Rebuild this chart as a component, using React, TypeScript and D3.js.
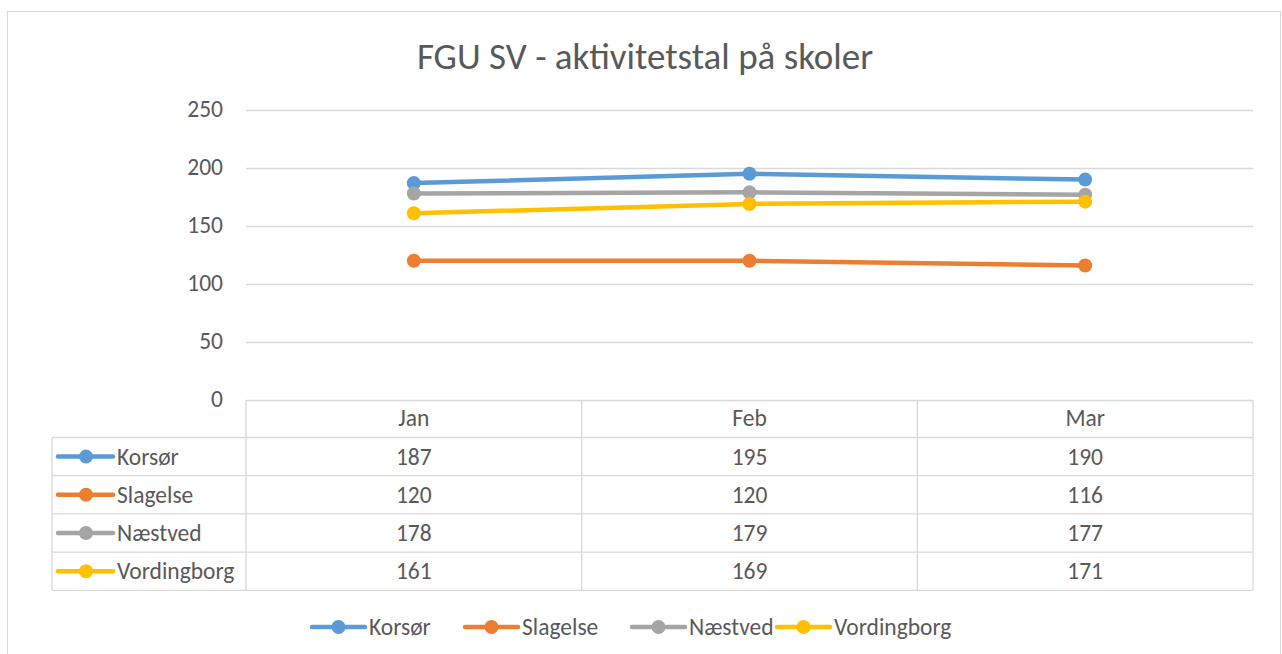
import React, { useEffect } from "react";
import * as d3 from "d3";

const categories = ["Jan", "Feb", "Mar"];
const seriesNames = ["Korsør", "Slagelse", "Næstved", "Vordingborg"];
const korsor = [187, 195, 190];
const slagelse = [120, 120, 116];
const naestved = [178, 179, 177];
const vordingborg = [161, 169, 171];
const yTicks = [0, 50, 100, 150, 200, 250];
const colors = ["#5B9BD5", "#ED7D31", "#A5A5A5", "#FFC000"];

const seriesValues = [korsor, slagelse, naestved, vordingborg];

const W = 1282;
const H = 654;
const font = "Carlito, Calibri, Lato, sans-serif";
const textColor = "#595959";
const gridColor = "#d9d9d9";
const fs = 23.5;

const App = () => {
  useEffect(() => {
    document.body.style.margin = "0";
  }, []);

  const x = d3.scaleBand<string>().domain(categories).range([246, 1253]);
  const y = d3.scaleLinear().domain([0, 250]).range([400, 110]);
  const line = d3
    .line<number>()
    .x((d, i) => (x(categories[i]) as number) + x.bandwidth() / 2)
    .y((d) => y(d));

  // table geometry
  const tableLeft = 52;
  const headerTop = y(0);
  const rowH = 38.2;
  const headerH = 37.5;
  const rowTop = (i: number) => headerTop + headerH + i * rowH;
  const tableBottom = rowTop(seriesNames.length);

  // legend positions
  const legendX = [310, 463, 630, 775];
  const legendY = 627;

  return (
    <svg width={W} height={H} style={{ display: "block", fontFamily: font }}>
      <rect x={0} y={0} width={W} height={H} fill="white" />
      <rect x={7.5} y={11.5} width={1273} height={660} fill="white" stroke={gridColor} strokeWidth={1} />

      <text x={645} y={69} textAnchor="middle" fontSize={37} fill={textColor}>
        FGU SV - aktivitetstal på skoler
      </text>

      {/* gridlines and y labels */}
      {yTicks.map((t) => (
        <g key={t}>
          {t > 0 && (
            <line x1={246} x2={1253} y1={y(t) + 0.5} y2={y(t) + 0.5} stroke={gridColor} strokeWidth={1.3} />
          )}
          <text x={223} y={y(t) + 7} textAnchor="end" fontSize={fs} fill={textColor}>
            {t}
          </text>
        </g>
      ))}

      {/* data table */}
      <g stroke={gridColor} strokeWidth={1.3} fill="none">
        <line x1={246} x2={1253} y1={headerTop + 0.5} y2={headerTop + 0.5} />
        {seriesNames.map((s, i) => (
          <line key={s} x1={tableLeft} x2={1253} y1={rowTop(i)} y2={rowTop(i)} />
        ))}
        <line x1={tableLeft} x2={1253} y1={tableBottom} y2={tableBottom} />
        <line x1={tableLeft} x2={tableLeft} y1={rowTop(0)} y2={tableBottom} />
        {categories.map((c) => (
          <line key={c} x1={x(c)} x2={x(c)} y1={headerTop} y2={tableBottom} />
        ))}
        <line x1={1253} x2={1253} y1={headerTop} y2={tableBottom} />
      </g>
      {categories.map((c) => (
        <text
          key={c}
          x={(x(c) as number) + x.bandwidth() / 2}
          y={headerTop + 26}
          textAnchor="middle"
          fontSize={fs}
          fill={textColor}
        >
          {c}
        </text>
      ))}
      {seriesNames.map((s, i) => (
        <g key={s}>
          <line x1={58} x2={113} y1={rowTop(i) + rowH / 2} y2={rowTop(i) + rowH / 2} stroke={colors[i]} strokeWidth={4.5} strokeLinecap="round" />
          <circle cx={86} cy={rowTop(i) + rowH / 2} r={7} fill={colors[i]} />
          <text x={117} y={rowTop(i) + rowH / 2 + 8} fontSize={fs} fill={textColor}>
            {s}
          </text>
          {seriesValues[i].map((v, j) => (
            <text
              key={j}
              x={(x(categories[j]) as number) + x.bandwidth() / 2}
              y={rowTop(i) + rowH / 2 + 8}
              textAnchor="middle"
              fontSize={fs}
              fill={textColor}
            >
              {v}
            </text>
          ))}
        </g>
      ))}

      {/* series */}
      {seriesValues.map((vals, i) => (
        <g key={seriesNames[i]}>
          <path d={line(vals) as string} fill="none" stroke={colors[i]} strokeWidth={4.5} strokeLinecap="round" />
          {vals.map((v, j) => (
            <circle
              key={j}
              cx={(x(categories[j]) as number) + x.bandwidth() / 2}
              cy={y(v)}
              r={7}
              fill={colors[i]}
            />
          ))}
        </g>
      ))}

      {/* legend */}
      {seriesNames.map((s, i) => (
        <g key={s} transform={`translate(${legendX[i]},${legendY})`}>
          <line x1={2} x2={55} y1={0} y2={0} stroke={colors[i]} strokeWidth={4.5} strokeLinecap="round" />
          <circle cx={28.5} cy={0} r={7} fill={colors[i]} />
          <text x={59} y={8} fontSize={fs} fill={textColor}>
            {s}
          </text>
        </g>
      ))}
    </svg>
  );
};

export default App;
